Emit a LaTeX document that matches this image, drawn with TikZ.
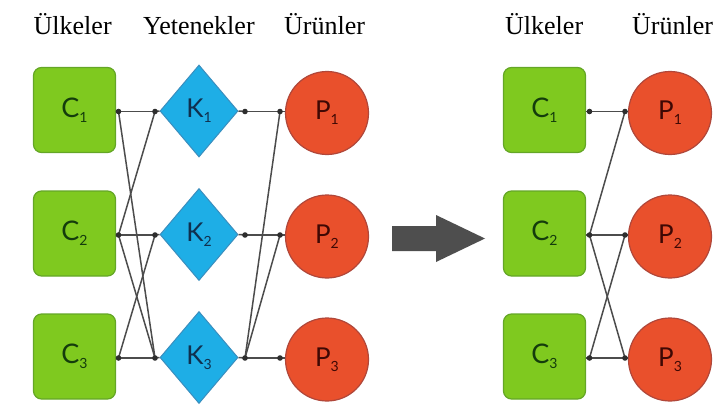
\documentclass[tikz,border=0pt]{standalone}
\usepackage{fontspec}
\setmainfont{Liberation Serif}
\newfontfamily\lblfont{Lato}
\usetikzlibrary{shapes.geometric}
\definecolor{cfill}{HTML}{7FC91F}
\definecolor{cline}{HTML}{64A626}
\definecolor{ctext}{HTML}{143C0C}
\definecolor{kfill}{HTML}{1EAEE6}
\definecolor{kline}{HTML}{3A8EBE}
\definecolor{ktext}{HTML}{10304E}
\definecolor{pfill}{HTML}{E9502C}
\definecolor{pline}{HTML}{B0473A}
\definecolor{ptext}{HTML}{3E0804}
\definecolor{edge}{HTML}{4C4C4C}
\definecolor{dotc}{HTML}{2E2E2E}
\definecolor{arrowc}{HTML}{4E4E4E}
\newcommand\nlab[2]{#1\raisebox{-0.2em}{\fontsize{14}{14}\selectfont #2}}
\begin{document}
\begin{tikzpicture}[x=1pt,y=-1pt,
  cbox/.style={rectangle, rounded corners=8pt, fill=cfill, draw=cline, line width=1.2pt,
    minimum width=82pt, minimum height=85pt, inner sep=0pt, text=ctext,
    font=\lblfont\fontsize{27}{27}\selectfont},
  kdia/.style={diamond, fill=kfill, draw=kline, line width=1pt,
    minimum width=78pt, minimum height=92pt, inner sep=0pt, text=ktext,
    font=\lblfont\fontsize{26}{26}\selectfont},
  pcirc/.style={circle, fill=pfill, draw=pline, line width=1.2pt,
    minimum size=83pt, inner sep=0pt, text=ptext,
    font=\lblfont\fontsize{26}{26}\selectfont},
  title/.style={anchor=base west, inner sep=0pt, font=\fontsize{26}{26}\selectfont},
  link/.style={draw=edge, line width=1.5pt},
  jdot/.style={fill=dotc}
]
\useasboundingbox (0,0) rectangle (718,412);

% column headings
\node[title] (h1) at (33.5,35) {Ülkeler};
\node[title] (h2) at (143,35) {Yetenekler};
\node[title] (h3) at (284,35) {Ürünler};
\node[title] (h4) at (505,35) {Ülkeler};
\node[title] (h5) at (632,35) {Ürünler};

% left network: countries, capabilities, products
\foreach \i/\y in {1/110, 2/233.5, 3/356.5} {
  \node[cbox] (C\i) at (74.5,\y) {\nlab{C}{\i}};
  \node[kdia] (K\i) at (199,\y+1) {\nlab{K}{\i}};
  \node[pcirc] (P\i) at (327,\y+3) {\nlab{P}{\i}};
  \coordinate (cr\i) at (118.5,\y+1.5);
  \coordinate (kl\i) at (155,\y+1.5);
  \coordinate (kr\i) at (245,\y+1.5);
  \coordinate (pl\i) at (280,\y+1.5);
  \draw[link] (C\i.east |- cr\i) -- (cr\i);
  \draw[link] (kl\i) -- (K\i.west);
  \draw[link] (K\i.east) -- (kr\i);
  \draw[link] (pl\i) -- (P\i.west |- pl\i);
  \draw[link] (kr\i) -- (pl\i);
}
% country -> capability links
\draw[link] (cr1) -- (kl1);
\draw[link] (cr1) -- (kl3);
\draw[link] (cr2) -- (kl1);
\draw[link] (cr2) -- (kl2);
\draw[link] (cr2) -- (kl3);
\draw[link] (cr3) -- (kl2);
\draw[link] (cr3) -- (kl3);
% capability -> product links
\draw[link] (kr3) -- (pl1);
\draw[link] (kr3) -- (pl2);
\foreach \c in {cr1,cr2,cr3,kl1,kl2,kl3,kr1,kr2,kr3,pl1,pl2,pl3}
  \fill[jdot] (\c) circle (2.8pt);

% transition arrow
\fill[arrowc] (392,226) -- (436,226) -- (436,215) -- (485,238.5)
  -- (436,262) -- (436,251) -- (392,251) -- cycle;

% right network: countries -> products
\foreach \i/\y in {1/110, 2/233.5, 3/356.5} {
  \node[cbox] (D\i) at (544.5,\y) {\nlab{C}{\i}};
  \node[pcirc] (Q\i) at (670,\y+3) {\nlab{P}{\i}};
  \coordinate (dr\i) at (589.5,\y+1.5);
  \coordinate (ql\i) at (625,\y+1.5);
  \draw[link] (D\i.east |- dr\i) -- (dr\i);
  \draw[link] (ql\i) -- (Q\i.west |- ql\i);
}
\draw[link] (dr1) -- (ql1);
\draw[link] (dr2) -- (ql1);
\draw[link] (dr2) -- (ql2);
\draw[link] (dr2) -- (ql3);
\draw[link] (dr3) -- (ql2);
\draw[link] (dr3) -- (ql3);
\foreach \c in {dr1,dr2,dr3,ql1,ql2,ql3}
  \fill[jdot] (\c) circle (2.8pt);
\end{tikzpicture}
\end{document}
